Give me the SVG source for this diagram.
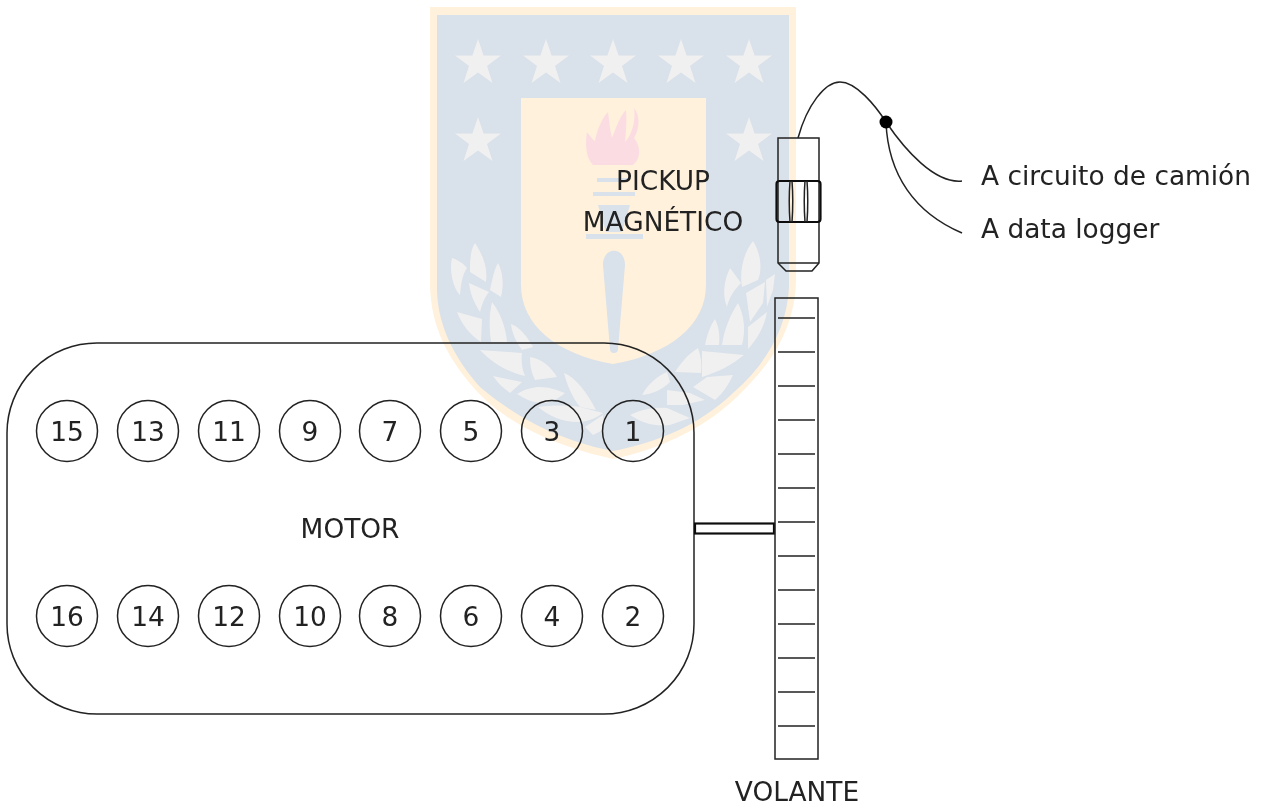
<svg xmlns="http://www.w3.org/2000/svg" width="1263" height="804" viewBox="0 0 1263 804">
<style>
.l{fill:none;stroke:#222;stroke-width:1.5}
.n{fill:none;stroke:#222;stroke-width:1.5}
.nb{fill:none;stroke:#111;stroke-width:2.2}
.t{font-family:"DejaVu Sans",sans-serif;font-size:26.4px;fill:#222;text-anchor:middle}
.ts{font-family:"DejaVu Sans",sans-serif;font-size:26.4px;fill:#222}
.star{fill:#f0f0f0}
.leaf{fill:#f0f0f0}
.bar{fill:#d9e1ea}
</style>
<defs>
<polygon id="s" points="0,-24 5.6,-7.6 23,-7.6 9,3 14.5,20 0,9.5 -14.5,20 -9,3 -23,-7.6 -5.6,-7.6"/>
<filter id="soft" x="0" y="0" width="100%" height="100%" filterUnits="userSpaceOnUse"><feGaussianBlur stdDeviation="0.45"/></filter>
</defs>
<rect width="1263" height="804" fill="#fff"/>
<g filter="url(#soft)">
<g id="watermark">
<path d="M430,7H796V280C795,330 770,365 737,397C700,432 655,450 613,459C571,450 510,430 473,387C450,360 431,330 430,285Z" fill="#fff1db"/>
<path d="M437,15H789V287C787,330 765,365 733,393C697,427 655,443 613,451C571,443 525,425 480,387C458,362 438,330 437,290Z" fill="#d9e1ea"/>
<path d="M521,98H706V285C706,325 670,354 613,364C556,354 521,325 521,285Z" fill="#fff1db"/>
<g class="star">
<use href="#s" x="478" y="63"/><use href="#s" x="546" y="63"/><use href="#s" x="613" y="63"/><use href="#s" x="681" y="63"/><use href="#s" x="749" y="63"/>
<use href="#s" x="478" y="141"/><use href="#s" x="749" y="141"/>
</g>
<path d="M593,165C586,158 585,145 587,132C590,136 593,140 595,141C597,130 602,118 608,112C609,120 610,130 612,138C616,128 620,116 626,110C627,120 626,130 625,142C632,135 636,120 634,108C640,115 640,128 634,138C640,145 642,158 633,165Z" fill="#fbdce3"/>
<g class="bar">
<rect x="597" y="178" width="30" height="4"/><rect x="593" y="192" width="42" height="4"/><path d="M598,205H630L622,232H606Z"/><rect x="586" y="234" width="57" height="5"/>
<path d="M603,265C603,246 625,246 625,265L618,349A4,4 0 0 1 610,349Z"/>
</g>
<g class="leaf">
<path d="M475,243C483,255 488,268 486,282L470,272C470,262 470,250 475,243Z"/>
<path d="M452,258C458,260 464,264 467,268C462,275 461,285 460,295C453,288 449,270 452,258Z"/>
<path d="M498,263C503,272 504,285 501,297L490,290C492,280 494,270 498,263Z"/>
<path d="M469,283L489,292C484,298 482,305 480,312C474,303 470,293 469,283Z"/>
<path d="M492,302C500,312 506,328 507,342L491,342C489,328 489,315 492,302Z"/>
<path d="M457,312L482,319L481,342C470,335 462,325 457,312Z"/>
<path d="M511,324C520,327 528,338 533,347L522,350C516,342 512,333 511,324Z"/>
<path d="M480,350L522,353C521,361 522,369 525,376C507,372 491,362 480,350Z"/>
<path d="M530,357C542,359 551,367 557,377L535,380C531,372 530,365 530,357Z"/>
<path d="M493,376L522,382L510,393C503,388 497,382 493,376Z"/>
<path d="M517,394C525,389 533,387 540,387C549,387 557,390 565,393C558,399 550,403 543,403C533,403 525,399 517,394Z"/>
<path d="M564,373C575,377 587,392 596,410L580,407C572,397 567,385 564,373Z"/>
<path d="M538,407C552,405 567,405 580,407L603,413C595,419 586,422 577,422C563,422 549,416 538,407Z"/>
<path d="M585,427L603,415V430L593,435Z"/>
<path d="M753,241C760,252 763,268 758,280L742,287C739,270 744,252 753,241Z"/>
<path d="M730,268L741,283C734,290 729,298 727,307C722,295 724,280 730,268Z"/>
<path d="M765,282L763,303L750,322L746,293Z"/>
<path d="M775,274L773,290L767,307L766,280Z"/>
<path d="M738,303C744,315 746,330 742,345L722,345C724,330 730,315 738,303Z"/>
<path d="M715,319C719,327 720,336 719,345L705,345C707,335 710,326 715,319Z"/>
<path d="M767,312C765,325 758,338 748,349V327Z"/>
<path d="M744,355L702,351V377C718,372 732,365 744,355Z"/>
<path d="M698,348C701,356 702,365 701,373L675,372C680,364 688,354 698,348Z"/>
<path d="M733,375L707,377L693,387L715,400C723,393 729,384 733,375Z"/>
<path d="M642,395C648,384 657,376 667,372L670,382C662,390 652,394 642,395Z"/>
<path d="M667,390L690,393L705,400L683,405H667Z"/>
<path d="M630,415C642,409 655,407 667,408L690,418L670,425C655,427 642,423 630,415Z"/>
</g>
</g>
<g id="connectors">
<path class="l" d="M798,138C807,105 825,82 840,82C856,82 875,105 886,122"/>
<path class="l" d="M886,122C905,150 935,184 962,181"/>
<path class="l" d="M886,122C888,175 915,213 962,233"/>
<circle cx="886" cy="122" r="6.5" fill="#000"/>
</g>
<g id="pickup">
<path class="n" d="M778,138H819V263L812,271H786L778,263Z"/>
<path class="n" d="M778,263H819"/>
<rect class="nb" x="776.5" y="181" width="44" height="41" rx="3"/>
<path class="n" d="M790,181C789,194 789,208 790,222M792,181C793,194 793,208 792,222M805,181C804,194 804,208 805,222M807,181C808,194 808,208 807,222"/>
<text class="t" x="663" y="190">PICKUP</text>
<text class="t" x="663" y="231">MAGNÉTICO</text>
</g>
<g id="motor">
<rect class="n" x="7" y="343" width="687" height="371" rx="90" ry="90"/>
<text class="t" x="350" y="538">MOTOR</text>
</g>
<g id="c15"><circle class="n" cx="67" cy="431" r="30.5"/><text class="t" x="67" y="440.500">15</text></g>
<g id="c13"><circle class="n" cx="148" cy="431" r="30.5"/><text class="t" x="148" y="440.500">13</text></g>
<g id="c11"><circle class="n" cx="229" cy="431" r="30.5"/><text class="t" x="229" y="440.500">11</text></g>
<g id="c9"><circle class="n" cx="310" cy="431" r="30.5"/><text class="t" x="310" y="440.500">9</text></g>
<g id="c7"><circle class="n" cx="390" cy="431" r="30.5"/><text class="t" x="390" y="440.500">7</text></g>
<g id="c5"><circle class="n" cx="471" cy="431" r="30.5"/><text class="t" x="471" y="440.500">5</text></g>
<g id="c3"><circle class="n" cx="552" cy="431" r="30.5"/><text class="t" x="552" y="440.500">3</text></g>
<g id="c1"><circle class="n" cx="633" cy="431" r="30.5"/><text class="t" x="633" y="440.500">1</text></g>
<g id="c16"><circle class="n" cx="67" cy="616" r="30.5"/><text class="t" x="67" y="625.500">16</text></g>
<g id="c14"><circle class="n" cx="148" cy="616" r="30.5"/><text class="t" x="148" y="625.500">14</text></g>
<g id="c12"><circle class="n" cx="229" cy="616" r="30.5"/><text class="t" x="229" y="625.500">12</text></g>
<g id="c10"><circle class="n" cx="310" cy="616" r="30.5"/><text class="t" x="310" y="625.500">10</text></g>
<g id="c8"><circle class="n" cx="390" cy="616" r="30.5"/><text class="t" x="390" y="625.500">8</text></g>
<g id="c6"><circle class="n" cx="471" cy="616" r="30.5"/><text class="t" x="471" y="625.500">6</text></g>
<g id="c4"><circle class="n" cx="552" cy="616" r="30.5"/><text class="t" x="552" y="625.500">4</text></g>
<g id="c2"><circle class="n" cx="633" cy="616" r="30.5"/><text class="t" x="633" y="625.500">2</text></g>
<g id="shaft"><rect class="nb" x="695" y="523.500" width="79" height="10"/></g>
<g id="volante">
<rect class="n" x="775" y="298" width="43" height="461"/>
<path class="n" d="M778,318H815M778,352H815M778,386H815M778,420H815M778,454H815M778,488H815M778,522H815M778,556H815M778,590H815M778,624H815M778,658H815M778,692H815M778,726H815"/>
<text class="t" x="797" y="801">VOLANTE</text>
</g>
<g id="labels">
<text class="ts" x="981" y="185">A circuito de camión</text>
<text class="ts" x="981" y="238">A data logger</text>
</g>
</g>
</svg>
